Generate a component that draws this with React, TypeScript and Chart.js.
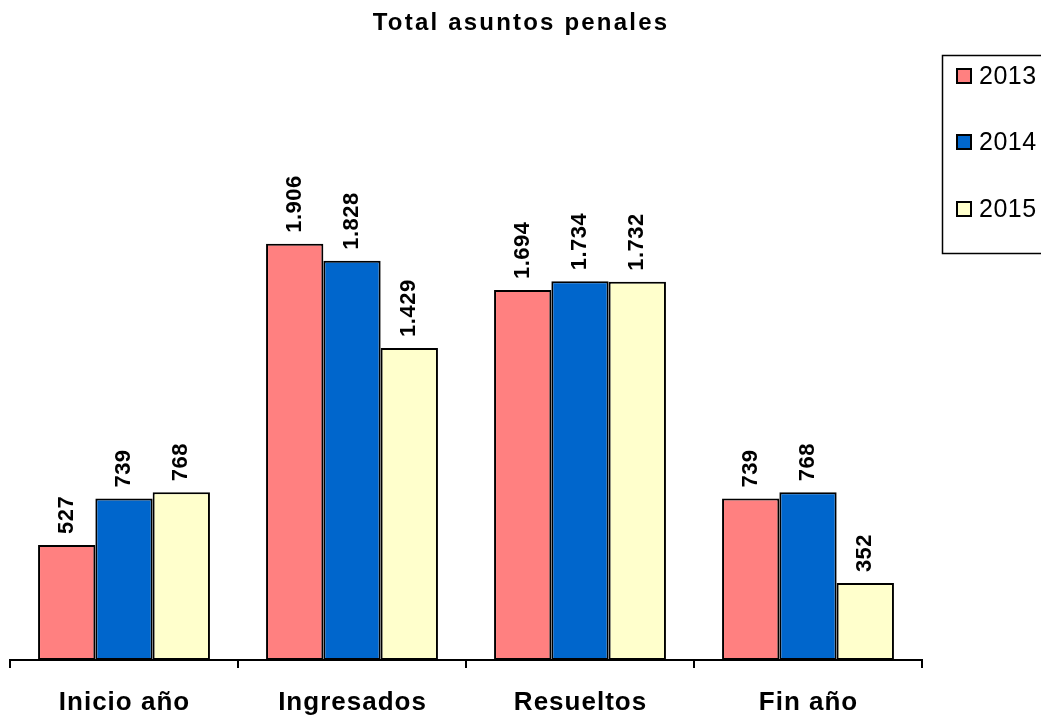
import React, { useEffect, useRef } from "react";
import { Chart, registerables } from "chart.js";

Chart.register(...registerables);

const categories = ["Inicio año", "Ingresados", "Resueltos", "Fin año"];
const seriesNames = ["2013", "2014", "2015"];
const values2013 = [527, 1906, 1694, 739];
const values2014 = [739, 1828, 1734, 768];
const values2015 = [768, 1429, 1732, 352];
const seriesColors = ["#FF8080", "#0066CC", "#FFFFCC"];
const titleText = "Total asuntos penales";

const FONT = "'Liberation Sans', Arial, sans-serif";

function fmt(v: number): string {
  const s = String(v);
  if (s.length > 3) return s.slice(0, s.length - 3) + "." + s.slice(s.length - 3);
  return s;
}

const overlayPlugin = {
  id: "overlay",
  afterDraw(chart: any) {
    const ctx = chart.ctx as CanvasRenderingContext2D;
    ctx.save();
    ctx.fillStyle = "#000";
    // category labels
    const xs = chart.scales.x;
    ctx.font = `bold 26px ${FONT}`;
    (ctx as any).letterSpacing = "1px";
    ctx.textAlign = "center";
    ctx.textBaseline = "alphabetic";
    categories.forEach((c, i) => {
      ctx.fillText(c, xs.getPixelForValue(i) + 0.5, 710);
    });
    // data labels
    ctx.font = `bold 22px ${FONT}`;
    (ctx as any).letterSpacing = "0.5px";
    chart.data.datasets.forEach((ds: any, di: number) => {
      const meta = chart.getDatasetMeta(di);
      meta.data.forEach((el: any, i: number) => {
        const v = ds.data[i];
        ctx.save();
        ctx.translate(el.x, el.y - 11);
        ctx.rotate(-Math.PI / 2);
        ctx.textAlign = "left";
        ctx.textBaseline = "middle";
        ctx.fillText(fmt(v), 0, 0);
        ctx.restore();
      });
    });
    // title
    ctx.font = `bold 24px ${FONT}`;
    (ctx as any).letterSpacing = "2.2px";
    ctx.textAlign = "center";
    ctx.textBaseline = "alphabetic";
    ctx.fillText(titleText, 521, 30);
    // legend
    (ctx as any).letterSpacing = "0.5px";
    ctx.lineWidth = 1.5;
    ctx.strokeStyle = "#000";
    ctx.strokeRect(942.5, 55.5, 110, 198);
    ctx.font = `25px ${FONT}`;
    ctx.textAlign = "left";
    ctx.textBaseline = "middle";
    const ys = [76, 142, 209];
    seriesNames.forEach((name, i) => {
      ctx.fillStyle = seriesColors[i];
      ctx.fillRect(957, ys[i] - 7, 14, 14);
      ctx.lineWidth = 2;
      ctx.strokeRect(957, ys[i] - 7, 14, 14);
      ctx.fillStyle = "#000";
      ctx.fillText(name, 979, ys[i] + 1);
    });
    ctx.restore();
  },
};

export default function App() {
  const ref = useRef<HTMLCanvasElement | null>(null);
  useEffect(() => {
    if (!ref.current) return;
    const all = [values2013, values2014, values2015];
    const chart = new Chart(ref.current, {
      type: "bar",
      data: {
        labels: categories,
        datasets: seriesNames.map((n, i) => ({
          label: n,
          data: all[i],
          backgroundColor: seriesColors[i],
          borderColor: "#000",
          borderWidth: 2,
          borderSkipped: false,
          barPercentage: 1,
          categoryPercentage: 0.754,
        })),
      },
      options: {
        animation: false,
        responsive: false,
        maintainAspectRatio: false,
        events: [],
        layout: { padding: { top: 114, left: 10, right: 119, bottom: 0 } },
        plugins: { legend: { display: false }, title: { display: false }, tooltip: { enabled: false } },
        scales: {
          x: {
            afterFit: (scale: any) => {
              scale.height = 59;
            },
            grid: {
              display: true,
              drawOnChartArea: false,
              drawTicks: true,
              tickLength: 8,
              color: "#000",
              lineWidth: 2,
              offset: true,
            },
            border: { display: true, color: "#000", width: 2 },
            ticks: { display: false },
          },
          y: { display: false, min: 0, max: 2500 },
        },
      },
      plugins: [overlayPlugin],
    });
    return () => chart.destroy();
  }, []);
  return (
    <div style={{ position: "absolute", left: 0, top: 0, width: 1041, height: 719, background: "#fff" }}>
      <canvas ref={ref} width={1041} height={719} style={{ width: 1041, height: 719 }} />
    </div>
  );
}
